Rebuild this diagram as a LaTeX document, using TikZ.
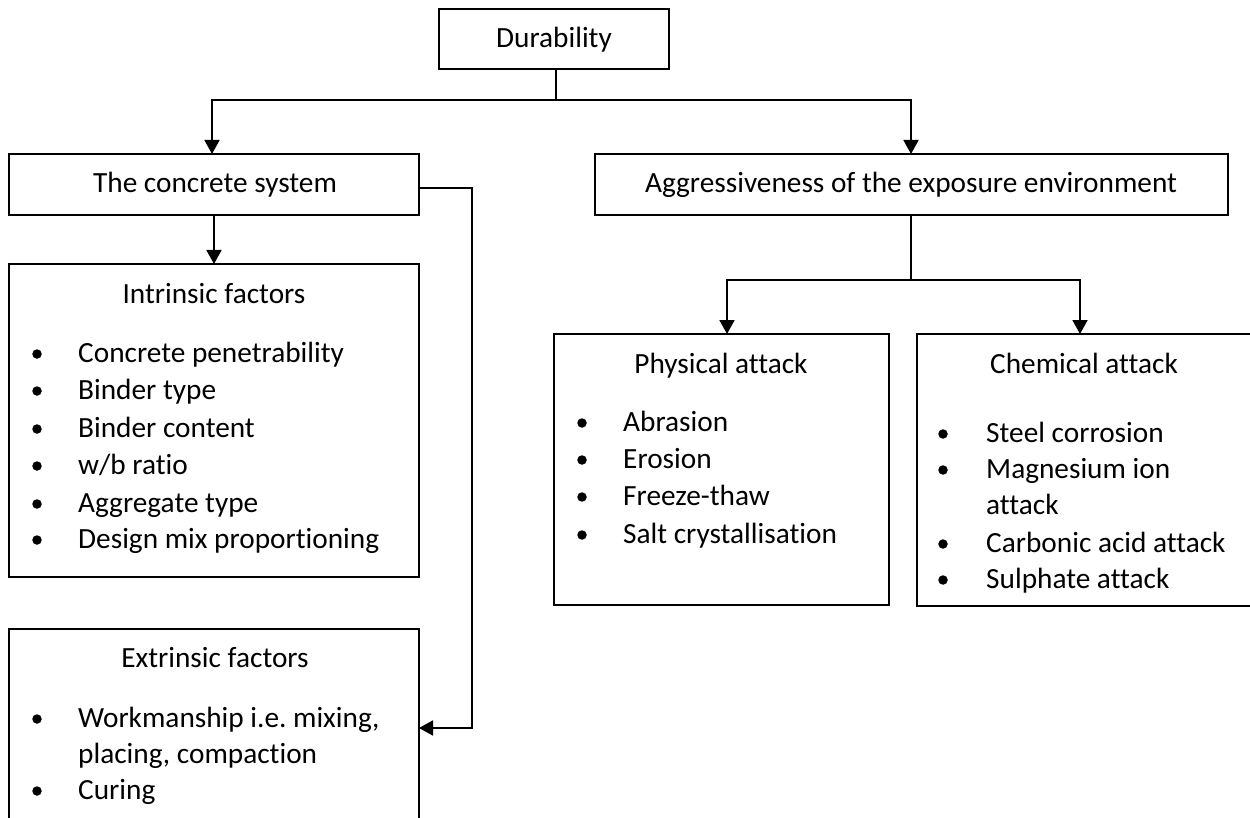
\documentclass[tikz,border=0pt]{standalone}
\usepackage{fontspec}
\setmainfont{Carlito}[Ligatures=NoCommon]
\usetikzlibrary{arrows.meta}
\frenchspacing
\begin{document}
\begin{tikzpicture}[x=1pt,y=-1pt,
  lw/.style={line width=1.8pt},
  box/.style={draw,lw,rectangle,inner sep=0pt,outer sep=0pt},
  conn/.style={lw},
  arr/.style={lw,-{Triangle[width=15pt,length=14pt]}},
  lbl/.style={anchor=base,inner sep=0pt,font=\fontsize{29.3}{36}\selectfont},
  item/.style={anchor=base west,inner sep=0pt,font=\fontsize{29.3}{36}\selectfont},
  dot/.style={circle,fill=black,inner sep=0pt,minimum size=9.5pt}]
\useasboundingbox (0,0) rectangle (1250,818);
\clip (0,0) rectangle (1250,818);
% boxes
\node[box,minimum width=230pt,minimum height=60pt] (dur) at (554,39) {};
\node[box,minimum width=410pt,minimum height=61pt] (cs) at (214,184.5) {};
\node[box,minimum width=633pt,minimum height=61pt] (agg) at (911.5,184.5) {};
\node[box,minimum width=410pt,minimum height=313pt] (intr) at (214,420.5) {};
\node[box,minimum width=410pt,minimum height=211pt] (ext) at (214,734.5) {};
\node[box,minimum width=335pt,minimum height=271pt] (phys) at (721.5,469.5) {};
\node[box,minimum width=345pt,minimum height=272pt] (chem) at (1089.5,470) {};
% titles
\node[lbl] (tdur) at (554,48) {Durability};
\node[lbl] (tcs) at (215,193) {The concrete system};
\node[lbl] (tagg) at (911,193) {Aggressiveness of the exposure environment};
\node[lbl] (tintr) at (214,303) {Intrinsic factors};
\node[lbl] (text) at (215,667) {Extrinsic factors};
\node[lbl] (tphys) at (721,373) {Physical attack};
\node[lbl] (tchem) at (1084,373) {Chemical attack};
% intrinsic items
\node[dot] (bi1) at (37,354) {}; \node[item] (i1) at (78,362) {Concrete penetrability};
\node[dot] (bi2) at (37,391) {}; \node[item] (i2) at (78,399) {Binder type};
\node[dot] (bi3) at (37,429) {}; \node[item] (i3) at (78,437) {Binder content};
\node[dot] (bi4) at (37,466) {}; \node[item] (i4) at (78,474) {w/b ratio};
\node[dot] (bi5) at (37,504) {}; \node[item] (i5) at (78,512) {Aggregate type};
\node[dot] (bi6) at (37,540) {}; \node[item] (i6) at (78,548) {Design mix proportioning};
% extrinsic items
\node[dot] (be1) at (37,719) {}; \node[item] (e1) at (78,727) {Workmanship i.e.\ mixing,};
\node[item] (e1b) at (78,763) {placing, compaction};
\node[dot] (be2) at (37,791) {}; \node[item] (e2) at (78,799) {Curing};
% physical items
\node[dot] (bp1) at (582,423) {}; \node[item] (p1) at (623,431) {Abrasion};
\node[dot] (bp2) at (582,460) {}; \node[item] (p2) at (623,468) {Erosion};
\node[dot] (bp3) at (582,497) {}; \node[item] (p3) at (623,505) {Freeze-thaw};
\node[dot] (bp4) at (582,535) {}; \node[item] (p4) at (623,543) {Salt crystallisation};
% chemical items
\node[dot] (bc1) at (943,434) {}; \node[item] (c1) at (986,442) {Steel corrosion};
\node[dot] (bc2) at (943,470) {}; \node[item] (c2) at (986,478) {Magnesium ion};
\node[item] (c2b) at (986,514) {attack};
\node[dot] (bc3) at (943,544) {}; \node[item] (c3) at (986,552) {Carbonic acid attack};
\node[dot] (bc4) at (943,580) {}; \node[item] (c4) at (986,588) {Sulphate attack};
% connectors
\coordinate (j1) at (556,100);
\coordinate (csin) at (212,154);
\coordinate (aggin) at (911,154);
\draw[conn] (dur.south -| j1) -- (j1);
\draw[arr] (j1) -| (csin);
\draw[arr] (j1) -| (aggin);
\draw[arr] (cs.south) -- (intr.north);
\coordinate (csout) at (419,188);
\coordinate (j2) at (472,728);
\coordinate (extin) at (419,728);
\draw[arr] (csout) -| (j2) -- (extin);
\coordinate (j3) at (911,280);
\coordinate (pin) at (727,334);
\coordinate (cin) at (1080,334);
\draw[conn] (agg.south -| j3) -- (j3);
\draw[arr] (j3) -| (pin);
\draw[arr] (j3) -| (cin);
\end{tikzpicture}
\end{document}
